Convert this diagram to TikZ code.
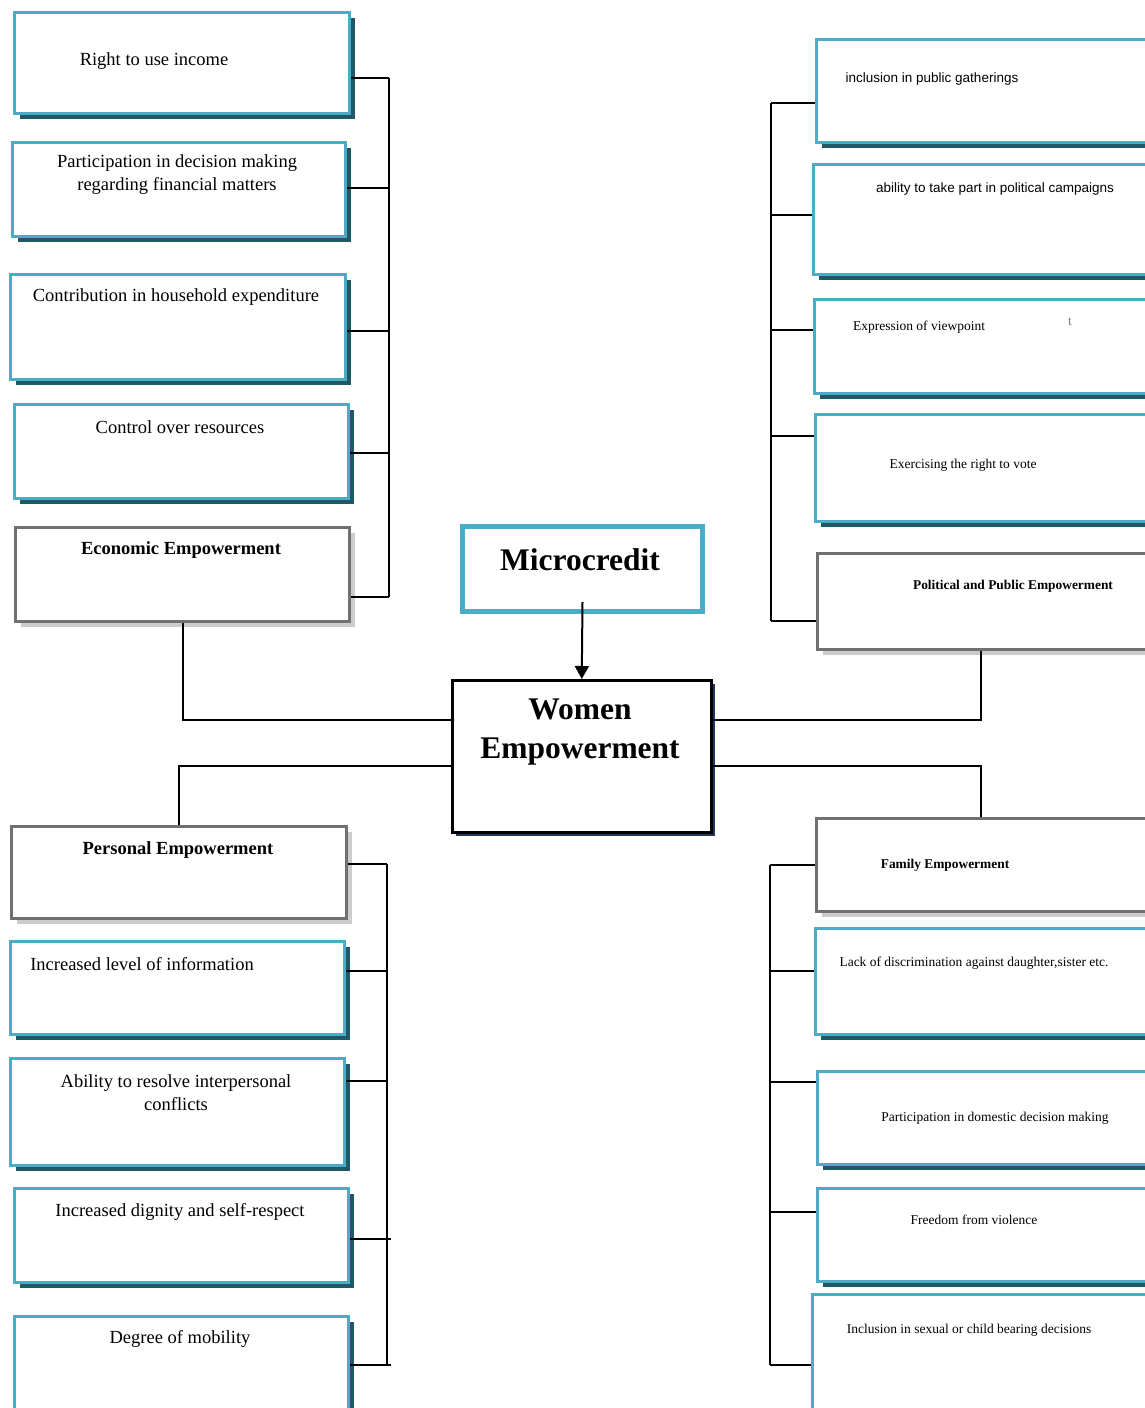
\documentclass[tikz,border=0pt]{standalone}
\usepackage{fontspec}
\setmainfont{Liberation Serif}
\newfontfamily\arialfont{Liberation Sans}
\usepackage{tikz}
\usetikzlibrary{shadows,arrows.meta}
\definecolor{boxblue}{HTML}{4BACC6}
\definecolor{shadeteal}{HTML}{215868}
\definecolor{headgray}{HTML}{707070}
\definecolor{navyshade}{HTML}{1F3864}
\tikzset{
  item/.style={rectangle,draw=boxblue,line width=3pt,fill=white,anchor=north west,inner sep=0pt,
    general shadow={fill=shadeteal,shadow xshift=5pt,shadow yshift=-5pt}},
  head/.style={rectangle,draw=headgray,line width=3pt,fill=white,anchor=north west,inner sep=0pt,
    general shadow={fill=gray!40,shadow xshift=5pt,shadow yshift=-5pt}},
  link/.style={draw,line width=2pt},
  ltxt/.style={inner sep=0pt,align=center,yshift=-2pt,font=\fontsize{18.5}{23}\selectfont},
  lbold/.style={ltxt,font=\fontsize{18.5}{23}\selectfont\bfseries},
  rtxt/.style={inner sep=0pt,align=center,yshift=-2pt,font=\fontsize{13.5}{16}\selectfont},
  rsans/.style={rtxt,font=\fontsize{13.5}{16}\selectfont\arialfont},
  rbold/.style={rtxt,font=\fontsize{13.4}{16}\selectfont\bfseries}
}

\begin{document}
\begin{tikzpicture}[x=1pt,y=-1pt]
  \useasboundingbox (0,0) rectangle (1145,1408);
  \clip (0,0) rectangle (1145,1408);
  % centre
  \node[rectangle,draw=boxblue,line width=5pt,fill=white,anchor=north west,
    minimum width=240pt,minimum height=85pt] (mc) at (460,524) {};
  \node[rectangle,draw=black,line width=2.5pt,fill=white,anchor=north west,
    minimum width=259pt,minimum height=152pt,
    general shadow={fill=navyshade,shadow xshift=4pt,shadow yshift=-4pt}] (we) at (451,679) {};
  \node[inner sep=0pt,font=\fontsize{31.5}{39}\selectfont\bfseries] (tmc) at (580,560) {Microcredit};
  \node[inner sep=0pt,align=center,font=\fontsize{31.5}{39}\selectfont\bfseries] (twe) at (580,732) {Women\\Empowerment};

  % economic
  \node[item,minimum width=335pt,minimum height=101pt] (inc) at (13,11) {};
  \node[item,minimum width=333pt,minimum height=94pt] (part) at (11,141) {};
  \node[item,minimum width=335pt,minimum height=105pt] (contrib) at (9,273) {};
  \node[item,minimum width=334pt,minimum height=94pt] (ctrl) at (13,403) {};
  \node[head,minimum width=334pt,minimum height=94pt] (econ) at (14,526) {};
  \node[ltxt] (tinc) at (154,59) {Right to use income};
  \node[ltxt] (tpart) at (177,173) {Participation in decision making\\regarding financial matters};
  \node[ltxt] (tcontrib) at (176,295) {Contribution in household expenditure};
  \node[ltxt] (tctrl) at (180,425) {Control over resources};
  \node[lbold] (tecon) at (181,548) {Economic Empowerment};

  % personal
  \node[head,minimum width=335pt,minimum height=92pt] (pers) at (10,825) {};
  \node[item,minimum width=334pt,minimum height=93pt] (info) at (9,940) {};
  \node[item,minimum width=334pt,minimum height=107pt] (abil) at (9,1057) {};
  \node[item,minimum width=334pt,minimum height=94pt] (dign) at (13,1187) {};
  \node[item,minimum width=334pt,minimum height=110pt] (mobil) at (13,1315) {};
  \node[lbold] (tpers) at (178,848) {Personal Empowerment};
  \node[ltxt] (tinfo) at (142,962) {Increased level of information};
  \node[ltxt] (tabil) at (176,1091) {Ability to resolve interpersonal\\conflicts};
  \node[ltxt] (tdign) at (180,1210) {Increased dignity and self-respect};
  \node[ltxt] (tmobil) at (180,1337) {Degree of mobility};

  % political
  \node[item,minimum width=360pt,minimum height=103pt] (gath) at (815,38) {};
  \node[item,minimum width=360pt,minimum height=110pt] (camp) at (812,163) {};
  \node[item,minimum width=360pt,minimum height=94pt] (expr) at (813,298) {};
  \node[item,minimum width=360pt,minimum height=107pt] (vote) at (814,413) {};
  \node[head,minimum width=360pt,minimum height=96pt] (pol) at (816,552) {};
  \node[rsans] (tgath) at (932,77) {inclusion in public gatherings};
  \node[rsans] (tcamp) at (995,187) {ability to take part in political campaigns};
  \node[rtxt] (texpr) at (919,325) {Expression of viewpoint};
  \node[rtxt,text=gray] (tmark) at (1070,320) {t};
  \node[rtxt] (tvote) at (963,463) {Exercising the right to vote};
  \node[rbold] (tpol) at (1013,584) {Political and Public Empowerment};

  % family
  \node[head,minimum width=360pt,minimum height=93pt] (fam) at (815,817) {};
  \node[item,minimum width=360pt,minimum height=106pt] (lack) at (814,927) {};
  \node[item,minimum width=360pt,minimum height=93pt] (dom) at (816,1070) {};
  \node[item,minimum width=360pt,minimum height=93pt] (free) at (816,1187) {};
  \node[item,minimum width=360pt,minimum height=130pt] (sex) at (811,1293) {};
  \node[rbold] (tfam) at (945,863) {Family Empowerment};
  \node[rtxt] (tlack) at (974,961) {Lack of discrimination against daughter,sister etc.};
  \node[rtxt] (tdom) at (995,1116) {Participation in domestic decision making};
  \node[rtxt] (tfree) at (974,1218) {Freedom from violence};
  \node[rtxt] (tsex) at (969,1328) {Inclusion in sexual or child bearing decisions};

  % buses
  \coordinate (eb1) at (389,78);
  \coordinate (eb2) at (389,188);
  \coordinate (eb3) at (389,331);
  \coordinate (eb4) at (389,453);
  \coordinate (eb5) at (389,597);
  \coordinate (pb1) at (387,864);
  \coordinate (pb2) at (387,971);
  \coordinate (pb3) at (387,1081);
  \coordinate (pb4) at (391,1239);
  \coordinate (pb5) at (391,1365);
  \coordinate (qb1) at (771,103);
  \coordinate (qb2) at (771,215);
  \coordinate (qb3) at (771,330);
  \coordinate (qb4) at (771,436);
  \coordinate (qb5) at (771,621);
  \coordinate (fb1) at (770,865);
  \coordinate (fb2) at (770,971);
  \coordinate (fb3) at (770,1082);
  \coordinate (fb4) at (770,1212);
  \coordinate (fb5) at (770,1365);

  \draw[link] (eb1) -- (eb5);
  \draw[link] (inc.east |- eb1) -- (eb1);
  \draw[link] (part.east |- eb2) -- (eb2);
  \draw[link] (contrib.east |- eb3) -- (eb3);
  \draw[link] (ctrl.east |- eb4) -- (eb4);
  \draw[link] (econ.east |- eb5) -- (eb5);

  \draw[link] (pb1) -- (pb1 |- pb5);
  \draw[link] (pers.east |- pb1) -- (pb1);
  \draw[link] (info.east |- pb2) -- (pb2);
  \draw[link] (abil.east |- pb3) -- (pb3);
  \draw[link] (dign.east |- pb4) -- (pb4);
  \draw[link] (mobil.east |- pb5) -- (pb5);

  \draw[link] (qb1) -- (qb5);
  \draw[link] (qb1) -- (gath.west |- qb1);
  \draw[link] (qb2) -- (camp.west |- qb2);
  \draw[link] (qb3) -- (expr.west |- qb3);
  \draw[link] (qb4) -- (vote.west |- qb4);
  \draw[link] (qb5) -- (pol.west |- qb5);

  \draw[link] (fb1) -- (fb5);
  \draw[link] (fb1) -- (fam.west |- fb1);
  \draw[link] (fb2) -- (lack.west |- fb2);
  \draw[link] (fb3) -- (dom.west |- fb3);
  \draw[link] (fb4) -- (free.west |- fb4);
  \draw[link] (fb5) -- (sex.west |- fb5);

  % to the centre
  \draw[link] (econ.south) |- (we.west |- 0,720);
  \draw[link] (we.east |- 0,720) -| (pol.south west -| 981,0);
  \draw[link] (pers.north) |- (we.west |- 0,766);
  \draw[link] (we.east |- 0,766) -| (fam.north west -| 981,0);
  \draw[line width=2pt,-{Triangle[length=13pt,width=14pt]}] ([yshift=12pt]mc.south) -- (we.north);
\end{tikzpicture}
\end{document}
